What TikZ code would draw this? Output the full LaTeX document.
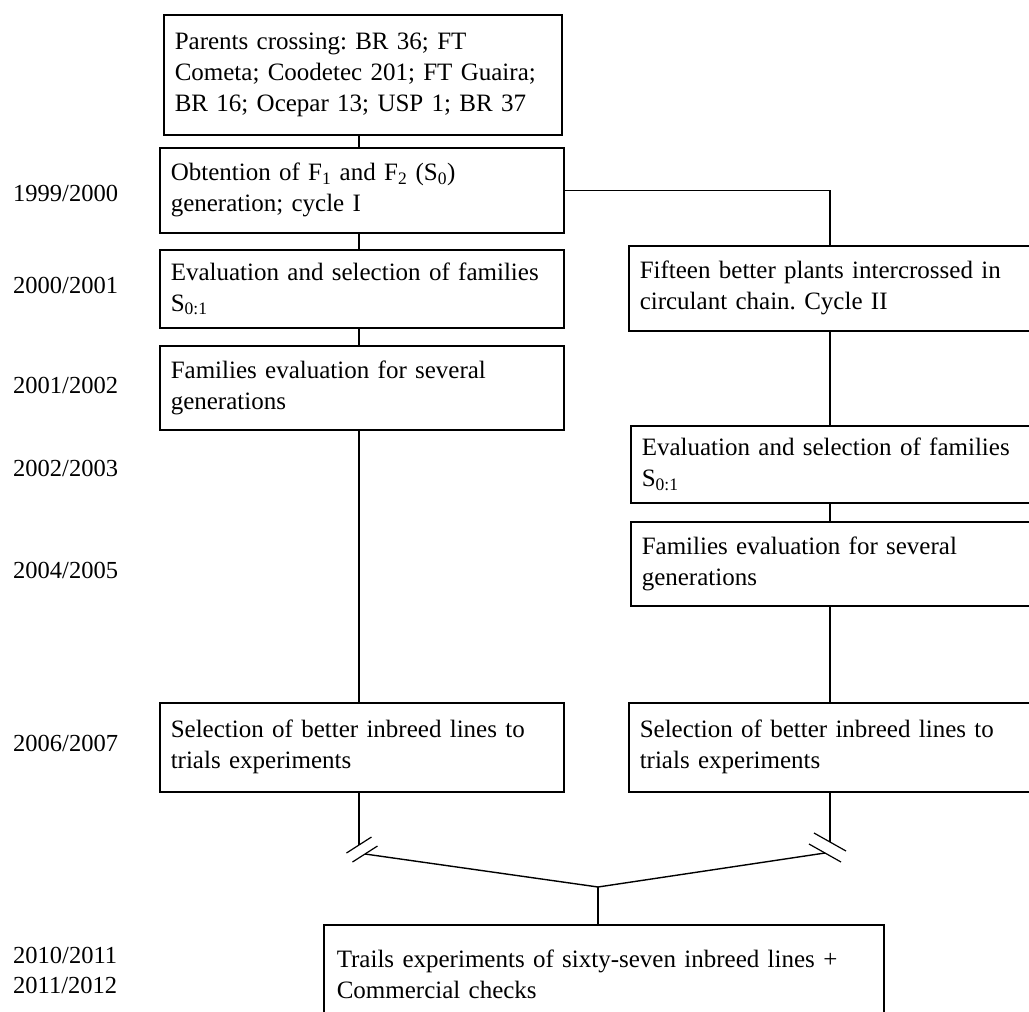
\documentclass[tikz,border=0pt]{standalone}
\usepackage{fontspec}
\setmainfont{Liberation Serif}
\frenchspacing
\tikzset{
    %Define style for stage boxes
    stage/.style={
           rectangle,
           draw=black, line width=1.5pt,
           anchor=north west,
           align=left,
           inner xsep=11pt,
           inner ysep=0pt,
           text width=382pt,
           font=\fontsize{25}{31}\selectfont},
    %Define style for the year column
    yearlabel/.style={
           anchor=west,
           align=left,
           inner sep=0pt,
           font=\fontsize{24.5}{30}\selectfont},
    % Define line styles
    link/.style={line width=1.4pt},
    slash/.style={line width=1.2pt}
}
\begin{document}
\begin{tikzpicture}[x=1pt,y=-1pt]
\useasboundingbox (0,0) rectangle (1029,1012);
\clip (0,0) rectangle (1029,1012);

 %columns
\coordinate (colL) at (359,0);
\coordinate (colR) at (830,0);

 %left branch
\node[stage, text width=376pt, minimum height=120pt] (parents) at (163,14)
    {Parents crossing: BR 36; FT\\ Cometa; Coodetec 201; FT Guaira;\\ BR 16; Ocepar 13; USP 1; BR 37};
\node[stage, minimum height=85pt] (obtention) at (159,147)
    {Obtention of F\textsubscript{1} and F\textsubscript{2} (S\textsubscript{0})\\ generation; cycle I};
\node[stage, minimum height=78pt] (evalL) at (159,249)
    {Evaluation and selection of families\\ S\textsubscript{0:1}};
\node[stage, minimum height=84pt] (famL) at (159,345)
    {Families evaluation for several\\ generations};
\node[stage, minimum height=89pt] (selL) at (159,702)
    {Selection of better inbreed lines to\\ trials experiments};

 %right branch
\node[stage, text width=398pt, minimum height=85pt] (fifteen) at (628,245)
    {Fifteen better plants intercrossed in\\ circulant chain. Cycle II};
\node[stage, text width=398pt, minimum height=77pt] (evalR) at (630,425)
    {Evaluation and selection of families\\ S\textsubscript{0:1}};
\node[stage, text width=398pt, minimum height=84pt] (famR) at (630,521)
    {Families evaluation for several\\ generations};
\node[stage, text width=398pt, minimum height=89pt] (selR) at (628,702)
    {Selection of better inbreed lines to\\ trials experiments};

 %final trials
\node[stage, text width=534pt, minimum height=100pt, inner xsep=13pt] (trials) at (323,924)
    {Trails experiments of sixty-seven inbreed lines +\\ Commercial checks};

 %years
\node[yearlabel] (y1999) at (13,193) {1999/2000};
\node[yearlabel] (y2000) at (13,285) {2000/2001};
\node[yearlabel] (y2001) at (13,385) {2001/2002};
\node[yearlabel] (y2002) at (13,468) {2002/2003};
\node[yearlabel] (y2004) at (13,570) {2004/2005};
\node[yearlabel] (y2006) at (13,743) {2006/2007};
\node[yearlabel] (y2010) at (13,970) {2010/2011\\ 2011/2012};

 %connectors
\draw[link] (parents.south -| colL) -- (obtention.north -| colL);
\draw[link] (obtention.south -| colL) -- (evalL.north -| colL);
\draw[link] (evalL.south -| colL) -- (famL.north -| colL);
\draw[link] (famL.south -| colL) -- (selL.north -| colL);
\draw[link] (obtention.east) -- (obtention.east -| colR) -- (fifteen.north -| colR);
\draw[link] (fifteen.south -| colR) -- (evalR.north -| colR);
\draw[link] (evalR.south -| colR) -- (famR.north -| colR);
\draw[link] (famR.south -| colR) -- (selR.north -| colR);

 %breaks and join
\coordinate (brkL) at (359,845);
\coordinate (brkL2) at (365,854);
\coordinate (brkR) at (830,842);
\coordinate (brkR2) at (825,853);
\coordinate (join) at (598,887);
\draw[link] (selL.south -| colL) -- (brkL);
\draw[link] (selR.south -| colR) -- (brkR);
\draw[link] (brkL2) -- (join) -- (brkR2);
\draw[link] (join) -- (trials.north -| join);
\foreach \c in {brkL,brkL2}
    \draw[slash] ([shift={(-12.5,8)}]\c) -- ([shift={(12.5,-8)}]\c);
\foreach \c in {brkR,brkR2}
    \draw[slash] ([shift={(-16,-9)}]\c) -- ([shift={(16,9)}]\c);
\end{tikzpicture}
\end{document}
